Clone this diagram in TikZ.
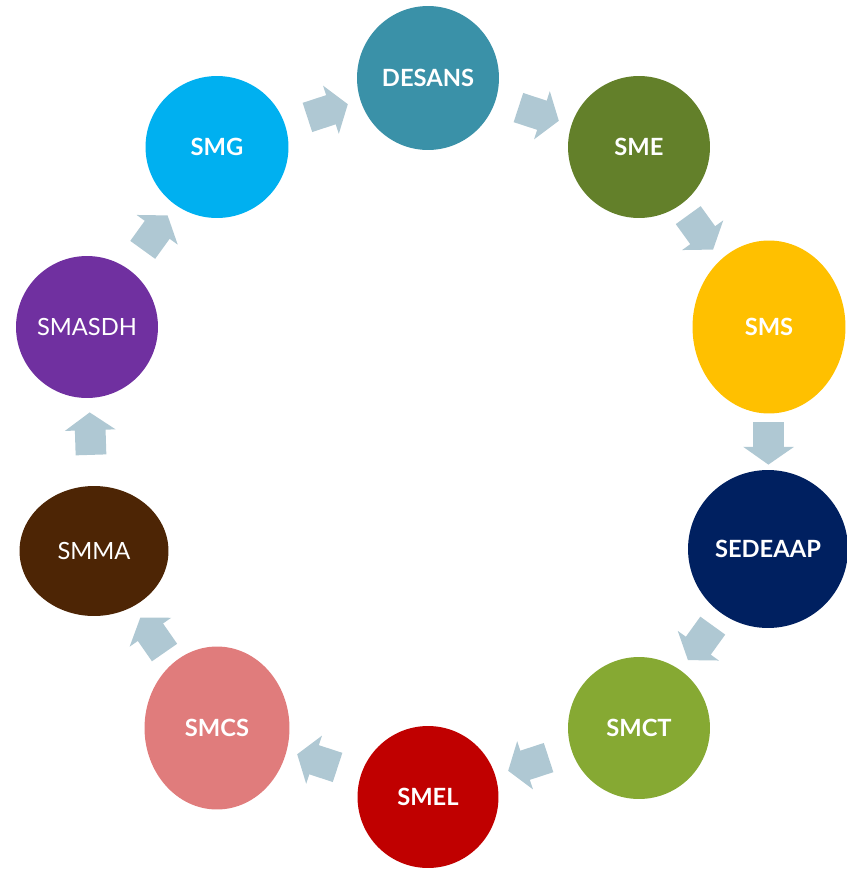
\documentclass[tikz,border=0pt]{standalone}
\usepackage{fontspec}
\setmainfont{Lato}
\usetikzlibrary{shapes.geometric,shapes.arrows,calc}
\definecolor{cdesans}{HTML}{3A91A8}
\definecolor{csme}{HTML}{63802A}
\definecolor{csms}{HTML}{FFC000}
\definecolor{csedeaap}{HTML}{002060}
\definecolor{csmct}{HTML}{86A933}
\definecolor{csmel}{HTML}{C00000}
\definecolor{csmcs}{HTML}{E07C7C}
\definecolor{csmma}{HTML}{4D2505}
\definecolor{csmasdh}{HTML}{7030A0}
\definecolor{csmg}{HTML}{00B0F0}
\definecolor{cflow}{HTML}{AFC8D3}

\begin{document}
\begin{tikzpicture}[x=0.02cm, y=-0.02cm,
    stage/.style={ellipse, inner sep=0pt, text=white, font=\fontsize{13.5}{15}\selectfont\bfseries},
    flow/.style={single arrow, fill=cflow, inner xsep=0pt, inner ysep=0.3cm, minimum height=0.85cm,
        single arrow head extend=0.2cm, single arrow tip angle=110}]
    \useasboundingbox (0,0) rectangle (846,872);

    \node[stage, fill=cdesans, minimum width=2.84cm, minimum height=2.88cm] (desans) at (428,78) {DESANS};
    \node[stage, fill=csme, minimum width=2.84cm, minimum height=2.84cm] (sme) at (639,147) {SME};
    \node[stage, fill=csms, minimum width=3.06cm, minimum height=3.46cm] (sms) at (769,327) {SMS};
    \node[stage, fill=csedeaap, minimum width=3.2cm, minimum height=3.16cm] (sedeaap) at (768,549) {SEDEAAP};
    \node[stage, fill=csmct, minimum width=2.84cm, minimum height=2.84cm] (smct) at (639,728) {SMCT};
    \node[stage, fill=csmel, minimum width=2.82cm, minimum height=2.84cm] (smel) at (428,797) {SMEL};
    \node[stage, fill=csmcs, minimum width=2.9cm, minimum height=3.26cm] (smcs) at (217,728) {SMCS};
    \node[stage, fill=csmma, minimum width=2.98cm, minimum height=2.6cm, font=\fontsize{13.5}{15}\selectfont] (smma) at (94,551) {SMMA};
    \node[stage, fill=csmasdh, minimum width=2.84cm, minimum height=2.84cm, font=\fontsize{13.5}{15}\selectfont] (smasdh) at (87,327) {SMASDH};
    \node[stage, fill=csmg, minimum width=2.86cm, minimum height=2.84cm] (smg) at (217,147) {SMG};

    % block arrows between the stages
    \path let \p1=($(desans)-(smg)$) in node[flow, rotate={atan2(\y1,\x1)}] (a1) at ($(smg)!0.5!(desans)$) {};
    \path let \p1=($(sme)-(desans)$) in node[flow, rotate={atan2(\y1,\x1)}] (a2) at ($(desans)!0.5!(sme)$) {};
    \path let \p1=($(sms)-(sme)$) in node[flow, rotate={atan2(\y1,\x1)}] (a3) at ($(sme)!0.45!(sms)$) {};
    \path let \p1=($(sedeaap)-(sms)$) in node[flow, rotate={atan2(\y1,\x1)}] (a4) at ($(sms)!0.5!(sedeaap)$) {};
    \path let \p1=($(smct)-(sedeaap)$) in node[flow, rotate={atan2(\y1,\x1)}] (a5) at ($(sedeaap)!0.5!(smct)$) {};
    \path let \p1=($(smel)-(smct)$) in node[flow, rotate={atan2(\y1,\x1)}] (a6) at ($(smct)!0.5!(smel)$) {};
    \path let \p1=($(smcs)-(smel)$) in node[flow, rotate={atan2(\y1,\x1)}] (a7) at ($(smel)!0.5!(smcs)$) {};
    \path let \p1=($(smma)-(smcs)$) in node[flow, rotate={atan2(\y1,\x1)}] (a8) at ($(smcs)!0.5!(smma)$) {};
    \path let \p1=($(smasdh)-(smma)$) in node[flow, rotate={atan2(\y1,\x1)}] (a9) at ($(smma)!0.5!(smasdh)$) {};
    \path let \p1=($(smg)-(smasdh)$) in node[flow, rotate={atan2(\y1,\x1)}] (a10) at ($(smasdh)!0.5!(smg)$) {};
\end{tikzpicture}
\end{document}
